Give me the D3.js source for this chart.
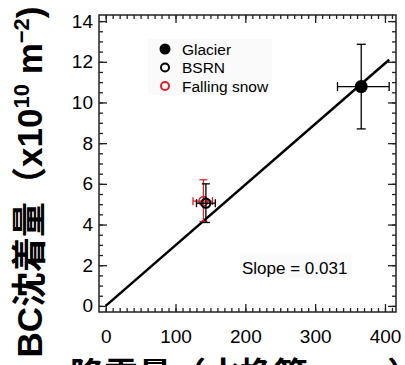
<!DOCTYPE html>
<html>
<head>
<meta charset="utf-8">
<script src="https://cdn.jsdelivr.net/npm/d3@7"></script>
<style>
  body { margin: 0; background: #fff; }
  svg { display: block; }
  text { font-family: "Liberation Sans", Arial, "Noto Sans CJK JP", sans-serif; }
</style>
</head>
<body>
<script>
// ----- Data -----
const seriesNames = ["Glacier", "BSRN", "Falling snow"];
const seriesColors = ["#000", "#000", "#e0202a"];
const seriesFilled = [true, false, false];
const xValues = [366, 143.5, 140];
const yValues = [10.78, 5.05, 5.15];
const xErrLow = [332, 130, 125];
const xErrHigh = [406, 157, 153];
const yErrLow = [8.7, 4.1, 4.15];
const yErrHigh = [12.86, 6.0, 6.2];
const fitSlope = 0.031;
const fitLineX = [0, 406];
const fitLineY = [0, 12.1];
const xTicks = [0, 100, 200, 300, 400];
const yTicks = [0, 2, 4, 6, 8, 10, 12, 14];

// ----- Layout -----
const W = 405, H = 365;
const box = { left: 99, right: 396, top: 15, bottom: 312 };

const svg = d3.select("body").append("svg")
  .attr("width", W).attr("height", H);

const x = d3.scaleLinear().domain([-9.6, 415.8]).range([box.left, box.right]);
const y = d3.scaleLinear().domain([-0.3, 14.3]).range([box.bottom, box.top]);

const axisColor = "#222";

function styleAxis(g) {
  g.select(".domain").remove();
  g.selectAll("line").attr("stroke", axisColor).attr("stroke-width", 1.3);
  g.selectAll("text").attr("fill", "#000").attr("font-size", 19)
    .attr("font-family", "'Liberation Sans', Arial, sans-serif");
}

const yMinor = d3.range(0, 14.01, 0.5);
const xMinor = d3.range(0, 410.1, 10);

// left
svg.append("g").attr("transform", `translate(${box.left},0)`)
  .call(d3.axisLeft(y).tickValues(yMinor).tickSize(-4).tickSizeOuter(0).tickFormat(""))
  .call(styleAxis);
svg.append("g").attr("transform", `translate(${box.left},0)`)
  .call(d3.axisLeft(y).tickValues(yTicks).tickSize(-8).tickSizeOuter(0).tickPadding(6))
  .call(styleAxis);
// right
svg.append("g").attr("transform", `translate(${box.right},0)`)
  .call(d3.axisRight(y).tickValues(yMinor).tickSize(-4).tickSizeOuter(0).tickFormat(""))
  .call(styleAxis);
svg.append("g").attr("transform", `translate(${box.right},0)`)
  .call(d3.axisRight(y).tickValues(yTicks).tickSize(-8).tickSizeOuter(0).tickFormat(""))
  .call(styleAxis);
// bottom
svg.append("g").attr("transform", `translate(0,${box.bottom})`)
  .call(d3.axisBottom(x).tickValues(xMinor).tickSize(-4).tickSizeOuter(0).tickFormat(""))
  .call(styleAxis);
svg.append("g").attr("transform", `translate(0,${box.bottom})`)
  .call(d3.axisBottom(x).tickValues(xTicks).tickSize(-8).tickSizeOuter(0).tickPadding(18))
  .call(styleAxis);
// top
svg.append("g").attr("transform", `translate(0,${box.top})`)
  .call(d3.axisTop(x).tickValues(xMinor).tickSize(-4).tickSizeOuter(0).tickFormat(""))
  .call(styleAxis);
svg.append("g").attr("transform", `translate(0,${box.top})`)
  .call(d3.axisTop(x).tickValues(xTicks).tickSize(-8).tickSizeOuter(0).tickFormat(""))
  .call(styleAxis);

svg.append("rect")
  .attr("x", box.left).attr("y", box.top)
  .attr("width", box.right - box.left).attr("height", box.bottom - box.top)
  .attr("fill", "none").attr("stroke", axisColor).attr("stroke-width", 1.5);

// ----- Legend -----
const legend = svg.append("g");
legend.append("rect")
  .attr("x", 148).attr("y", 39).attr("width", 124).attr("height", 56)
  .attr("fill", "#fafafa");
seriesNames.forEach((name, i) => {
  const ly = 49 + i * 18.5;
  legend.append("circle")
    .attr("cx", 165).attr("cy", ly).attr("r", seriesFilled[i] ? 5.5 : 4)
    .attr("fill", seriesFilled[i] ? seriesColors[i] : "none")
    .attr("stroke", seriesColors[i]).attr("stroke-width", seriesFilled[i] ? 0 : 2);
  legend.append("text")
    .attr("x", 182).attr("y", ly + 5.5)
    .attr("font-size", 15.5).attr("fill", "#000")
    .text(name);
});

// ----- Fit line -----
svg.append("line")
  .attr("x1", x(fitLineX[0])).attr("y1", y(fitLineY[0]))
  .attr("x2", x(fitLineX[1])).attr("y2", y(fitLineY[1]))
  .attr("stroke", "#000").attr("stroke-width", 2.5);

svg.append("rect")
  .attr("x", 240).attr("y", 254).attr("width", 112).attr("height", 24)
  .attr("fill", "#fafafa");
svg.append("text")
  .attr("x", 242).attr("y", 274)
  .attr("font-size", 17).attr("fill", "#000")
  .text("Slope = " + fitSlope);

// ----- Points with error bars -----
const capW = [4.5, 4, 4];
const pts = svg.append("g");
[2, 1, 0].forEach(i => {
  const c = seriesColors[i];
  const g = pts.append("g").attr("stroke", c).attr("stroke-width", 1.3).attr("fill", "none");
  g.append("line").attr("x1", x(xValues[i])).attr("x2", x(xValues[i]))
    .attr("y1", y(yErrLow[i])).attr("y2", y(yErrHigh[i]));
  g.append("line").attr("x1", x(xErrLow[i])).attr("x2", x(xErrHigh[i]))
    .attr("y1", y(yValues[i])).attr("y2", y(yValues[i]));
  [yErrLow[i], yErrHigh[i]].forEach(v => {
    g.append("line").attr("x1", x(xValues[i]) - capW[i]).attr("x2", x(xValues[i]) + capW[i])
      .attr("y1", y(v)).attr("y2", y(v));
  });
  [xErrLow[i], xErrHigh[i]].forEach(v => {
    g.append("line").attr("x1", x(v)).attr("x2", x(v))
      .attr("y1", y(yValues[i]) - capW[i]).attr("y2", y(yValues[i]) + capW[i]);
  });
  pts.append("circle")
    .attr("cx", x(xValues[i])).attr("cy", y(yValues[i]))
    .attr("r", seriesFilled[i] ? 6.5 : 4.5)
    .attr("fill", seriesFilled[i] ? c : "none")
    .attr("stroke", c).attr("stroke-width", seriesFilled[i] ? 0 : (i === 1 ? 2.2 : 1.6));
});

// ----- Axis titles -----
const yTitle = svg.append("text")
  .attr("transform", "translate(42,182) rotate(-90)")
  .attr("text-anchor", "middle")
  .attr("font-size", 35).attr("font-weight", "bold").attr("fill", "#000");
yTitle.append("tspan").text("BC沈着量（x10");
yTitle.append("tspan").attr("dy", -13).attr("font-size", 22).text("10");
yTitle.append("tspan").attr("dy", 13).text(" m");
yTitle.append("tspan").attr("dy", -13).attr("font-size", 22).text("−2");
yTitle.append("tspan").attr("dy", 13).text(")");

svg.append("text")
  .attr("x", 70).attr("y", 387)
  .attr("font-size", 34).attr("font-weight", "bold").attr("fill", "#000")
  .text("降雪量（水換算, mm）");
</script>
</body>
</html>
